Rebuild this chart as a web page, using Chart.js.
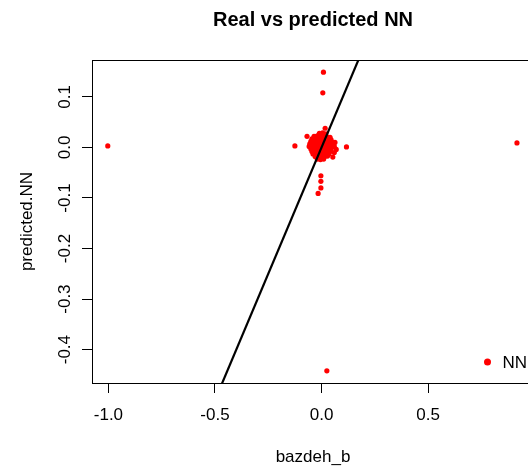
<!DOCTYPE html>
<html>
<head>
<meta charset="utf-8">
<script src="https://cdn.jsdelivr.net/npm/chart.js@4"></script>
<style>
  html, body { margin: 0; padding: 0; background: #fff; overflow: hidden; }
  #wrap { width: 545px; height: 470px; }
</style>
</head>
<body>
<div id="wrap"><canvas id="c" width="545" height="470"></canvas></div>
<script>
// ---- Data ----
const chartTitle = "Real vs predicted NN";
const xAxisTitle = "bazdeh_b";
const yAxisTitle = "predicted.NN";
const seriesName = "NN";

// real values (bazdeh_b)
const realX = [
  -1.003, 0.917, 0.025, 0.009, 0.006, 0.017, -0.125, 0.117, 0.069, 0.053,
  -0.003, -0.003, -0.003, -0.016,
  -0.010, 0.005, 0.020,
  -0.035, -0.020, -0.005, 0.010, 0.025, 0.040,
  -0.045, -0.030, -0.015, 0.000, 0.015, 0.030, 0.045,
  -0.050, -0.038, -0.025, -0.010, 0.005, 0.020, 0.035, 0.050,
  -0.055, -0.040, -0.028, -0.015, 0.000, 0.012, 0.027, 0.042, 0.055,
  -0.058, -0.045, -0.030, -0.018, -0.005, 0.010, 0.022, 0.035, 0.048, 0.060,
  -0.050, -0.038, -0.022, -0.010, 0.003, 0.018, 0.030, 0.045,
  -0.045, -0.030, -0.015, 0.000, 0.013, 0.028, 0.040,
  -0.040, -0.025, -0.008, 0.008, 0.022, 0.035,
  -0.030, -0.015, 0.000, 0.015, 0.028,
  -0.020, -0.005, 0.010,
  0.060, -0.068, 0.063
];
// predicted values (predicted.NN)
const predY = [
  0.003, 0.009, -0.442, 0.149, 0.108, 0.038, 0.003, 0.001, -0.004, -0.019,
  -0.056, -0.067, -0.080, -0.091,
  0.028, 0.029, 0.027,
  0.022, 0.023, 0.022, 0.023, 0.021, 0.020,
  0.017, 0.017, 0.018, 0.017, 0.016, 0.017, 0.015,
  0.012, 0.012, 0.013, 0.012, 0.012, 0.011, 0.012, 0.010,
  0.007, 0.007, 0.008, 0.007, 0.006, 0.007, 0.007, 0.006, 0.006,
  0.002, 0.002, 0.003, 0.002, 0.002, 0.001, 0.002, 0.002, 0.001, 0.002,
  -0.003, -0.003, -0.002, -0.003, -0.003, -0.004, -0.003, -0.003,
  -0.008, -0.008, -0.007, -0.008, -0.008, -0.009, -0.008,
  -0.013, -0.013, -0.012, -0.013, -0.014, -0.013,
  -0.018, -0.018, -0.019, -0.018, -0.017,
  -0.023, -0.024, -0.023,
  -0.010, 0.022, 0.010
];

// reference line (abline): intercept, slope
const ablineIntercept = 0;
const ablineSlope = 1;

// axis limits and ticks
const xLimits = [-1.077, 0.997];
const yLimits = [-0.466, 0.173];
const xTicks = [-1.0, -0.5, 0.0, 0.5];
const yTicks = [-0.4, -0.3, -0.2, -0.1, 0.0, 0.1];

// ---- build ----
const points = realX.map((x, i) => ({ x: x, y: predY[i] }));
const ablinePts = xLimits.map(x => ({ x: x, y: ablineIntercept + ablineSlope * x }));

const FONT = "'Liberation Sans', Arial, Helvetica, sans-serif";

const rBox = {
  id: 'rBox',
  afterDraw(chart) {
    const { ctx, chartArea: a, scales } = chart;
    ctx.save();
    // box
    ctx.strokeStyle = '#000';
    ctx.lineWidth = 1;
    ctx.strokeRect(Math.round(a.left) + 0.5, Math.round(a.top) + 0.5,
                   Math.round(a.right - a.left), Math.round(a.bottom - a.top));
    // y tick labels rotated (R style)
    ctx.fillStyle = '#000';
    ctx.font = '17px ' + FONT;
    ctx.textAlign = 'center';
    ctx.textBaseline = 'middle';
    const ys = scales.y;
    ys.ticks.forEach(t => {
      const py = ys.getPixelForValue(t.value);
      ctx.save();
      ctx.translate(a.left - 27, py);
      ctx.rotate(-Math.PI / 2);
      ctx.fillText(t.value.toFixed(1), 0, 0);
      ctx.restore();
    });
    // legend (bottom right, inside plot)
    const lx = a.right - 46.5, ly = a.bottom - 21;
    ctx.fillStyle = '#FF0000';
    ctx.beginPath();
    ctx.arc(lx, ly, 3.5, 0, Math.PI * 2);
    ctx.fill();
    ctx.fillStyle = '#000';
    ctx.textAlign = 'left';
    ctx.fillText(seriesName, lx + 15, ly + 1);
    ctx.restore();
  }
};

new Chart(document.getElementById('c'), {
  type: 'scatter',
  data: {
    datasets: [
      {
        label: seriesName,
        data: points,
        pointStyle: 'circle',
        pointRadius: 2.6,
        pointBackgroundColor: '#FF0000',
        pointBorderWidth: 0,
        pointBorderColor: '#FF0000',
        order: 2
      },
      {
        label: 'abline',
        type: 'line',
        data: ablinePts,
        borderColor: '#000',
        borderWidth: 2.2,
        pointRadius: 0,
        fill: false,
        order: 1
      }
    ]
  },
  options: {
    responsive: false,
    animation: false,
    devicePixelRatio: 1,
    layout: { padding: { left: 0, right: 11, top: 0, bottom: 0 } },
    plugins: {
      legend: { display: false },
      tooltip: { enabled: false },
      title: {
        display: true,
        text: chartTitle,
        fullSize: false,
        color: '#000',
        font: { family: FONT, size: 20, weight: 'bold', lineHeight: 1.2 },
        padding: { top: 8.3, bottom: 27.7 }
      }
    },
    scales: {
      x: {
        type: 'linear',
        min: xLimits[0],
        max: xLimits[1],
        afterBuildTicks: s => { s.ticks = xTicks.map(v => ({ value: v })); },
        afterFit: s => { s.height = 87; },
        grid: { display: true, drawOnChartArea: false, drawTicks: true, tickLength: 10, tickColor: '#000', tickWidth: 1 },
        border: { display: false },
        ticks: {
          color: '#000',
          font: { family: FONT, size: 17 },
          padding: 12,
          maxRotation: 0,
          autoSkip: false,
          callback: v => Number(v).toFixed(1)
        },
        title: {
          display: true,
          text: xAxisTitle,
          color: '#000',
          font: { family: FONT, size: 17 },
          padding: { top: 0, bottom: 2.5 }
        }
      },
      y: {
        type: 'linear',
        min: yLimits[0],
        max: yLimits[1],
        afterBuildTicks: s => { s.ticks = yTicks.map(v => ({ value: v })); },
        afterFit: s => { s.width = 92; },
        grid: { display: true, drawOnChartArea: false, drawTicks: true, tickLength: 10, tickColor: '#000', tickWidth: 1 },
        border: { display: false },
        ticks: { display: false },
        title: {
          display: true,
          text: yAxisTitle,
          color: '#000',
          font: { family: FONT, size: 17 },
          padding: { top: 17.3, bottom: 0 }
        }
      }
    }
  },
  plugins: [rBox]
});
</script>
</body>
</html>
